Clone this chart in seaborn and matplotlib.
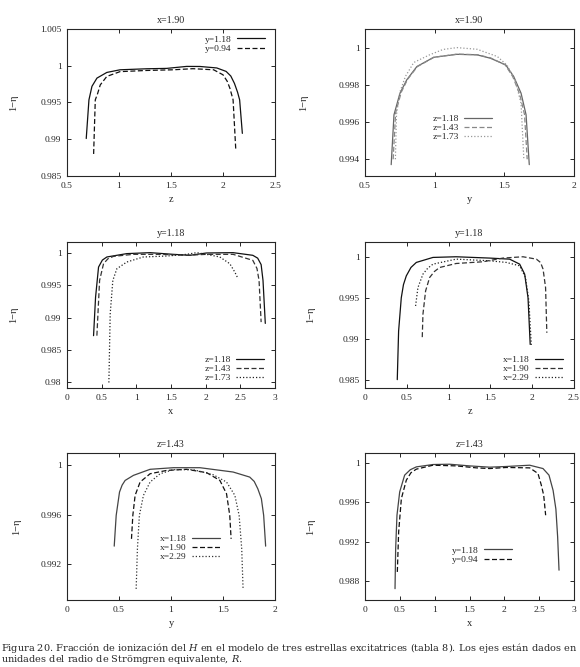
import matplotlib
matplotlib.use("Agg")
import matplotlib.pyplot as plt
import seaborn as sns

# Panel 1: x=1.90, curves along z
p1_z_a = [0.685, 0.711, 0.74, 0.788, 0.883, 1.01, 1.267, 1.458, 1.65, 1.78, 1.94, 2.03, 2.075, 2.11, 2.14, 2.16, 2.186]
p1_v_a = [0.9901, 0.99536, 0.9972, 0.99832, 0.99909, 0.99945, 0.99959, 0.99964, 0.99991, 0.9999, 0.9997, 0.99923, 0.9986, 0.9976, 0.9964, 0.99536, 0.9908]
p1_z_b = [0.756, 0.772, 0.794, 0.82, 0.883, 1.01, 1.267, 1.52, 1.71, 1.91, 2.0, 2.04, 2.066, 2.097, 2.123]
p1_v_b = [0.988, 0.99536, 0.9962, 0.9974, 0.99855, 0.9992, 0.99936, 0.99945, 0.9996, 0.99945, 0.99877, 0.9979, 0.99695, 0.99536, 0.98855]

# Panel 2: x=1.90, curves along y
p2_y_a = [0.688, 0.708, 0.751, 0.80, 0.872, 0.993, 1.16, 1.305, 1.40, 1.51, 1.567, 1.62, 1.656, 1.679]
p2_v_a = [0.99371, 0.99639, 0.99755, 0.99827, 0.99898, 0.99948, 0.99964, 0.99961, 0.99943, 0.99907, 0.99845, 0.99755, 0.99639, 0.99371]
p2_y_b = [0.702, 0.720, 0.760, 0.806, 0.876, 0.995, 1.16, 1.305, 1.40, 1.505, 1.56, 1.61, 1.645, 1.664]
p2_v_b = [0.99400, 0.99650, 0.99760, 0.99830, 0.99898, 0.99948, 0.99965, 0.99962, 0.99945, 0.99908, 0.99845, 0.99750, 0.99640, 0.99400]
p2_y_c = [0.718, 0.726, 0.75, 0.79, 0.85, 0.96, 1.06, 1.16, 1.305, 1.45, 1.52, 1.58, 1.62, 1.64]
p2_v_c = [0.99400, 0.99640, 0.99760, 0.99845, 0.99920, 0.99960, 0.99990, 1.0, 0.99991, 0.99952, 0.99905, 0.99820, 0.99700, 0.99400]

# Panel 3: y=1.18, curves along x
p3_x_a = [0.383, 0.412, 0.455, 0.51, 0.575, 0.862, 1.198, 1.533, 1.773, 2.012, 2.396, 2.68, 2.75, 2.80, 2.827, 2.86]
p3_v_a = [0.9872, 0.99316, 0.99782, 0.9989, 0.99938, 0.9999, 1.00005, 0.99979, 0.99964, 1.0, 1.00005, 0.99964, 0.9992, 0.9982, 0.99575, 0.9891]
p3_x_b = [0.431, 0.47, 0.527, 0.59, 0.671, 0.958, 1.342, 1.725, 2.012, 2.396, 2.68, 2.74, 2.77, 2.80]
p3_v_b = [0.9872, 0.99575, 0.99834, 0.9991, 0.99948, 0.99979, 0.99979, 0.99964, 0.99979, 0.99979, 0.99886, 0.9976, 0.99575, 0.9893]
p3_x_c = [0.604, 0.623, 0.661, 0.719, 0.862, 1.10, 1.437, 1.725, 1.87, 2.012, 2.204, 2.348, 2.42, 2.468]
p3_v_c = [0.97995, 0.99057, 0.99575, 0.99756, 0.9986, 0.99938, 0.99953, 0.99979, 1.00005, 0.99979, 0.99938, 0.99834, 0.99705, 0.996]

# Panel 4: y=1.18, curves along z
p4_z_a = [0.386, 0.402, 0.434, 0.46, 0.494, 0.55, 0.614, 0.813, 1.09, 1.49, 1.73, 1.85, 1.91, 1.95, 1.976]
p4_v_a = [0.98502, 0.99094, 0.9950, 0.9966, 0.99767, 0.9987, 0.99931, 0.99992, 1.0, 0.99984, 0.99971, 0.9991, 0.99788, 0.9950, 0.98931]
p4_z_b = [0.685, 0.693, 0.725, 0.773, 0.83, 0.892, 1.09, 1.41, 1.65, 1.89, 2.05, 2.10, 2.13, 2.16, 2.175]
p4_v_b = [0.9902, 0.99298, 0.99584, 0.99747, 0.9982, 0.99869, 0.99918, 0.99939, 0.99984, 1.0, 0.99971, 0.9993, 0.99849, 0.99624, 0.99073]
p4_z_c = [0.605, 0.633, 0.693, 0.75, 0.813, 1.09, 1.49, 1.69, 1.85, 1.92, 1.96, 1.99]
p4_v_c = [0.994, 0.99624, 0.99788, 0.9986, 0.9991, 0.99971, 0.99951, 0.99931, 0.9989, 0.99747, 0.99461, 0.9891]

# Panel 5: z=1.43, curves along y
p5_y_a = [0.454, 0.473, 0.505, 0.53, 0.559, 0.639, 0.799, 1.022, 1.278, 1.597, 1.757, 1.80, 1.835, 1.869, 1.891, 1.91]
p5_v_a = [0.99346, 0.99595, 0.99784, 0.9984, 0.99878, 0.99919, 0.99968, 0.99981, 0.99981, 0.99946, 0.99905, 0.9987, 0.9981, 0.9973, 0.99595, 0.99346]
p5_y_b = [0.62, 0.633, 0.655, 0.703, 0.799, 0.958, 1.15, 1.342, 1.47, 1.534, 1.565, 1.578]
p5_v_b = [0.99405, 0.99595, 0.99757, 0.99865, 0.99932, 0.99959, 0.99968, 0.99941, 0.99878, 0.9977, 0.99595, 0.99405]
p5_y_c = [0.665, 0.677, 0.696, 0.735, 0.799, 0.895, 1.022, 1.214, 1.406, 1.534, 1.614, 1.655, 1.68, 1.693]
p5_v_c = [0.990, 0.99324, 0.99595, 0.99757, 0.99865, 0.99932, 0.99965, 0.99965, 0.99924, 0.99865, 0.99757, 0.99595, 0.99324, 0.990]

# Panel 6: z=1.43, curves along x
p6_x_a = [0.431, 0.44, 0.459, 0.498, 0.569, 0.65, 0.737, 0.976, 1.215, 1.502, 1.789, 2.029, 2.364, 2.555, 2.641, 2.70, 2.74, 2.765, 2.785]
p6_v_a = [0.98722, 0.99129, 0.99468, 0.99705, 0.99875, 0.9993, 0.99959, 0.99983, 0.99986, 0.99969, 0.99956, 0.99963, 0.99976, 0.99942, 0.99875, 0.9972, 0.9953, 0.9925, 0.9891]
p6_x_b = [0.464, 0.483, 0.522, 0.593, 0.66, 0.737, 0.976, 1.31, 1.598, 1.789, 2.029, 2.364, 2.483, 2.531, 2.565, 2.593]
p6_v_b = [0.98892, 0.99298, 0.99637, 0.99824, 0.9990, 0.99936, 0.99976, 0.99969, 0.99949, 0.99942, 0.99953, 0.99949, 0.99892, 0.99773, 0.99671, 0.99468]

caption1 = "Figura 20. Fracción de ionización del $H$ en el modelo de tres estrellas excitatrices (tabla 8). Los ejes están dados en"
caption2 = "unidades del radio de Strömgren equivalente, $R$."

sns.set_style("ticks")
plt.rcParams["font.family"] = ["Liberation Serif", "DejaVu Serif"]
plt.rcParams["mathtext.fontset"] = "dejavuserif"
plt.rcParams["xtick.direction"] = "in"
plt.rcParams["ytick.direction"] = "in"

W, H = 580, 667
fig = plt.figure(figsize=(5.8, 6.67), dpi=100)

SOLID = "-"
DASH = (0, (4, 2))
DOT = (0, (1, 1.6))

# left, right, top, bottom in pixels
boxes = [(67, 275, 29, 176), (365, 574, 29, 176),
         (67, 275, 242, 388), (365, 574, 242, 388),
         (67, 275, 453, 600), (365, 574, 453, 600)]

panels = [
    dict(title="x=1.90", xlabel="z", xlim=(0.5, 2.5), ylim=(0.985, 1.005),
         xticks=[0.5, 1, 1.5, 2, 2.5], yticks=[0.985, 0.99, 0.995, 1, 1.005],
         curves=[(p1_z_a, p1_v_a, "y=1.18", SOLID, "#111111"),
                 (p1_z_b, p1_v_b, "y=0.94", DASH, "#111111")],
         leg=(265, 44), ylab=-0.236),
    dict(title="x=1.90", xlabel="y", xlim=(0.5, 2), ylim=(0.9931, 1.001),
         xticks=[0.5, 1, 1.5, 2], yticks=[0.994, 0.996, 0.998, 1],
         curves=[(p2_y_a, p2_v_a, "z=1.18", SOLID, "#666666"),
                 (p2_y_b, p2_v_b, "z=1.43", DASH, "#888888"),
                 (p2_y_c, p2_v_c, "z=1.73", DOT, "#999999")],
         leg=(492, 128), ylab=-0.273),
    dict(title="y=1.18", xlabel="x", xlim=(0, 3), ylim=(0.9791, 1.0017),
         xticks=[0, 0.5, 1, 1.5, 2, 2.5, 3], yticks=[0.98, 0.985, 0.99, 0.995, 1],
         curves=[(p3_x_a, p3_v_a, "z=1.18", SOLID, "#111111"),
                 (p3_x_b, p3_v_b, "z=1.43", DASH, "#333333"),
                 (p3_x_c, p3_v_c, "z=1.73", DOT, "#222222")],
         leg=(264, 369), ylab=-0.236),
    dict(title="y=1.18", xlabel="z", xlim=(0, 2.5), ylim=(0.984, 1.0018),
         xticks=[0, 0.5, 1, 1.5, 2, 2.5], yticks=[0.985, 0.99, 0.995, 1],
         curves=[(p4_z_a, p4_v_a, "x=1.18", SOLID, "#111111"),
                 (p4_z_b, p4_v_b, "x=1.90", DASH, "#333333"),
                 (p4_z_c, p4_v_c, "x=2.29", DOT, "#222222")],
         leg=(563, 369), ylab=-0.24),
    dict(title="z=1.43", xlabel="y", xlim=(0, 2), ylim=(0.9891, 1.001),
         xticks=[0, 0.5, 1, 1.5, 2], yticks=[0.992, 0.996, 1],
         curves=[(p5_y_a, p5_v_a, "x=1.18", SOLID, "#444444"),
                 (p5_y_b, p5_v_b, "x=1.90", DASH, "#111111"),
                 (p5_y_c, p5_v_c, "x=2.29", DOT, "#333333")],
         leg=(220, 548), ylab=-0.221),
    dict(title="z=1.43", xlabel="x", xlim=(0, 3), ylim=(0.98607, 1.001),
         xticks=[0, 0.5, 1, 1.5, 2, 2.5, 3], yticks=[0.988, 0.992, 0.996, 1],
         curves=[(p6_x_a, p6_v_a, "y=1.18", SOLID, "#444444"),
                 (p6_x_b, p6_v_b, "y=0.94", DASH, "#111111")],
         leg=(512, 555), ylab=-0.24),
]

for (l, r, t, b), p in zip(boxes, panels):
    ax = fig.add_axes([l / W, 1 - b / H, (r - l) / W, (b - t) / H])
    for xs, vs, lab, ls, col in p["curves"]:
        sns.lineplot(x=xs, y=vs, ax=ax, color=col, linestyle=ls, lw=0.9,
                     label=lab, sort=False, estimator=None)
    ax.set_xlim(*p["xlim"])
    ax.set_ylim(*p["ylim"])
    ax.set_xticks(p["xticks"])
    ax.set_yticks(p["yticks"])
    ax.set_xticklabels([f"{v:g}" for v in p["xticks"]])
    ax.set_yticklabels([f"{v:g}" for v in p["yticks"]])
    ax.tick_params(labelsize=6.8, length=3, width=0.7, top=True, right=True, pad=4)
    for s in ax.spines.values():
        s.set_linewidth(0.8)
    ax.set_title(p["title"], fontsize=7.2, pad=4)
    ax.set_xlabel(p["xlabel"], fontsize=7.5)
    ax.set_ylabel("1−η", fontsize=7.5)
    ax.xaxis.set_label_coords(0.5, -0.13)
    ax.yaxis.set_label_coords(p["ylab"], 0.5)
    lx, ly = p["leg"]
    ax.legend(loc="center right", bbox_to_anchor=(lx / W, 1 - ly / H),
              bbox_transform=fig.transFigure, frameon=False, markerfirst=False,
              fontsize=6.8, handlelength=3.0, handletextpad=0.5,
              labelspacing=0.05, borderpad=0, borderaxespad=0)

fig.text(1 / W, 1 - 648 / H, caption1, fontsize=7.0, family="DejaVu Serif", va="center")
fig.text(1 / W, 1 - 660 / H, caption2, fontsize=7.0, family="DejaVu Serif", va="center")

fig.savefig("out.png", dpi=100)
